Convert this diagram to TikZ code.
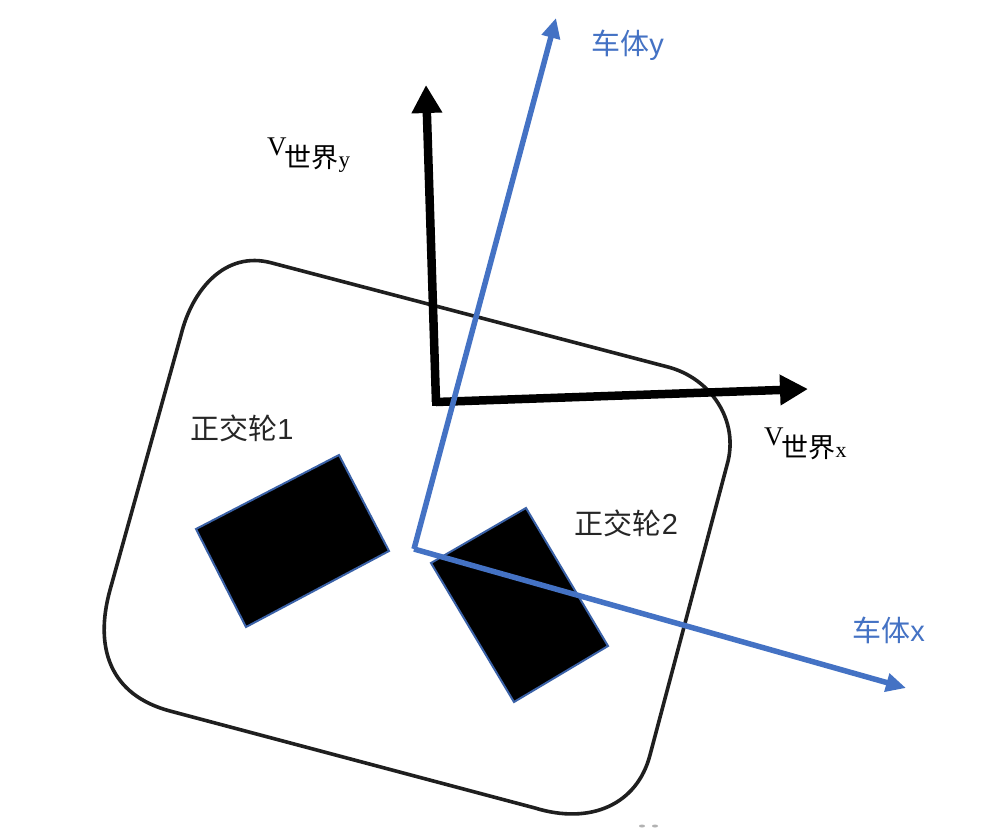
\documentclass[tikz,border=0pt]{standalone}
\usepackage{fontspec}
\setmainfont{Liberation Serif}
\newfontfamily\cjk{Noto Sans CJK SC}
\newfontfamily\lsans{Liberation Sans}
\usetikzlibrary{arrows.meta}
\definecolor{axisblue}{HTML}{4472C4}
\tikzset{
  body/.style={draw=black!88,line width=3.6pt,line join=round},
  wheel/.style={fill=black,draw=axisblue!85!black,line width=2pt,line join=miter},
  blackaxis/.style={draw=black,line width=8.5pt,-{Triangle[length=28pt,width=29pt]}},
  blueaxis/.style={draw=axisblue,line width=5.5pt,-{Triangle[length=20pt,width=18pt]}},
  lab/.style={inner sep=0pt,outer sep=0pt,anchor=center,text=black!85,font=\fontsize{29pt}{29pt}\selectfont\cjk},
  bluelab/.style={lab,text=axisblue},
  vlab/.style={inner sep=0pt,outer sep=0pt,anchor=base west,font=\fontsize{27pt}{27pt}\selectfont},
  speck/.style={fill=black!30,draw=none}
}
\begin{document}
\begin{tikzpicture}[x=1pt,y=-1pt]
\useasboundingbox (0,0) rectangle (1006,838);
\fill[white] (0,0) rectangle (1006,838);
% car body
\draw[body] (181,335) .. controls (192,290) and (225,250) .. (272,263)
  -- (668,367) .. controls (710,378) and (740,420) .. (727,465)
  -- (650,755) .. controls (637,805) and (590,825) .. (535,808)
  -- (170,711) .. controls (110,695) and (94,648) .. (110,590) -- cycle;
% wheels
\draw[wheel] (339,455) -- (389,551) -- (246,627) -- (196,529) -- cycle;
\draw[wheel] (526,508) -- (608,646) -- (514,702) -- (431,563) -- cycle;
% world axes
\coordinate (wo) at (436,402);
\coordinate (wy) at (426,85);
\coordinate (wx) at (808,389);
\draw[blackaxis] (wo) -- (wy);
\draw[blackaxis] (wo) -- (wx);
\fill[black] (432,398) rectangle (440,406);
% car axes
\coordinate (co) at (414,549);
\coordinate (cy) at (556,18);
\coordinate (cx) at (906,688);
\draw[blueaxis] (co) -- (cy);
\draw[blueaxis] (co) -- (cx);
% labels
\node[lab] (w1) at (242,428) {正交轮\lsans 1};
\node[lab] (w2) at (626.5,523) {正交轮\lsans 2};
\node[bluelab] (bx) at (888.5,630) {车体\lsans x};
\node[bluelab] (by) at (627.5,45) {车体\lsans y};
\node[vlab] (vy) at (268,155) {\kern-1pt V\kern-2pt\raisebox{-12pt}{\fontsize{27pt}{27pt}\selectfont\cjk 世界\fontsize{23pt}{23pt}\selectfont\rmfamily y}};
\node[vlab] (vx) at (765,445) {\kern-1pt V\kern-2pt\raisebox{-12pt}{\fontsize{27pt}{27pt}\selectfont\cjk 世界\fontsize{22pt}{22pt}\selectfont\rmfamily x}};
% specks
\fill[speck] (642,826) ellipse (3pt and 1.5pt);
\fill[speck] (655,826) ellipse (3pt and 1.5pt);
\end{tikzpicture}
\end{document}
